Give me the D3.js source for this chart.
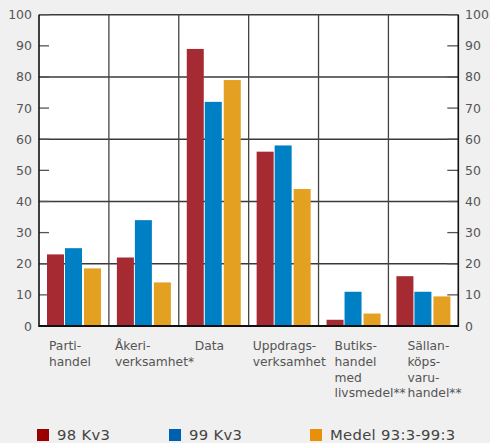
<!DOCTYPE html>
<html><head><meta charset="utf-8">
<script src="https://cdn.jsdelivr.net/npm/d3@7"></script>
<style>
html,body{margin:0;padding:0;background:#f0f0f0;}
svg{display:block;font-family:"DejaVu Sans",Verdana,sans-serif;}
</style></head>
<body><svg id="c" width="490" height="443"></svg>
<script>
const categories = ["Partihandel","Åkeriverksamhet*","Data","Uppdragsverksamhet","Butikshandel med livsmedel**","Sällanköpsvaruhandel**"];
const categoryLines = [["Parti-","handel"],["Åkeri-","verksamhet*"],["Data"],["Uppdrags-","verksamhet"],["Butiks-","handel","med","livsmedel**"],["Sällan-","köps-","varu-","handel**"]];
const seriesNames = ["98 Kv3","99 Kv3","Medel 93:3-99:3"];
const s98 = [23, 22, 89, 56, 2, 16];
const s99 = [25, 34, 72, 58, 11, 11];
const sMedel = [18.5, 14, 79, 44, 4, 9.5];
const yTicks = [0,10,20,30,40,50,60,70,80,90,100];

const barColors = ["#A52A32","#0080C4","#E3A021"];
const legendColors = ["#9B0000","#0060B0","#E8900A"];
const labelDx = [10, 6, 16, 4, 16, 19];

const svg = d3.select("#c");
const L = 39, R = 458.3, T = 14.7, B = 326;
const x = d3.scaleBand().domain(categories).range([L, R]).paddingInner(0).paddingOuter(0);
const y = d3.scaleLinear().domain([0,100]).range([B, T]);
const series = [s98, s99, sMedel];

svg.append("rect").attr("x",L).attr("y",T).attr("width",R-L).attr("height",B-T).attr("fill","#fff");

// horizontal gridlines
svg.append("g").selectAll("line").data([20,40,60,80,100]).join("line")
  .attr("x1",L).attr("x2",R).attr("y1",d=>y(d)).attr("y2",d=>y(d))
  .attr("stroke","#3a3a3a").attr("stroke-width",1.4);
// vertical gridlines
svg.append("g").selectAll("line").data(categories.slice(1)).join("line")
  .attr("x1",d=>x(d)).attr("x2",d=>x(d)).attr("y1",T).attr("y2",B)
  .attr("stroke","#444").attr("stroke-width",1.3);

// ticks
svg.append("g").selectAll("line").data(yTicks).join("line")
  .attr("x1",L).attr("x2",L+10).attr("y1",d=>y(d)).attr("y2",d=>y(d))
  .attr("stroke","#555").attr("stroke-width",1.3);
svg.append("g").selectAll("line").data(yTicks).join("line")
  .attr("x1",R-11).attr("x2",R).attr("y1",d=>y(d)).attr("y2",d=>y(d))
  .attr("stroke","#555").attr("stroke-width",1.3);

// bars
const bw = 17, offs = [8, 26, 45];
series.forEach((s,i)=>{
  svg.append("g").selectAll("rect").data(s).join("rect")
    .attr("x",(d,j)=>x(categories[j])+offs[i])
    .attr("y",d=>y(d)).attr("width",bw).attr("height",d=>B-y(d))
    .attr("fill",barColors[i]);
});

// axes frame
svg.append("line").attr("x1",L).attr("x2",L).attr("y1",T).attr("y2",B+1).attr("stroke","#111").attr("stroke-width",1.6);
svg.append("line").attr("x1",R).attr("x2",R).attr("y1",T).attr("y2",B+1).attr("stroke","#111").attr("stroke-width",1.6);
svg.append("line").attr("x1",L).attr("x2",R).attr("y1",B).attr("y2",B).attr("stroke","#111").attr("stroke-width",1.8);

// tick labels
svg.append("g").selectAll("text").data(yTicks).join("text")
  .attr("x",32).attr("y",d=>y(d)+4.5).attr("text-anchor","end")
  .attr("font-size",12.5).attr("fill","#555").text(d=>d);
svg.append("g").selectAll("text").data(yTicks).join("text")
  .attr("x",465).attr("y",d=>y(d)+4.5).attr("text-anchor","start")
  .attr("font-size",12.5).attr("fill","#555").text(d=>d);

// category labels
categories.forEach((c,i)=>{
  const t = svg.append("text").attr("font-size",12.3).attr("fill","#555");
  categoryLines[i].forEach((ln,k)=>{
    t.append("tspan").attr("x",x(c)+labelDx[i]).attr("y",350+k*15.8).text(ln);
  });
});

// legend
const legX = [37, 169, 310];
seriesNames.forEach((n,i)=>{
  svg.append("rect").attr("x",legX[i]).attr("y",429).attr("width",12).attr("height",12).attr("fill",legendColors[i]);
  svg.append("text").attr("x",legX[i]+20).attr("y",439.5).attr("font-size",14.8).attr("fill","#444")
    .attr("letter-spacing",0.3).text(n);
});
</script></body></html>
